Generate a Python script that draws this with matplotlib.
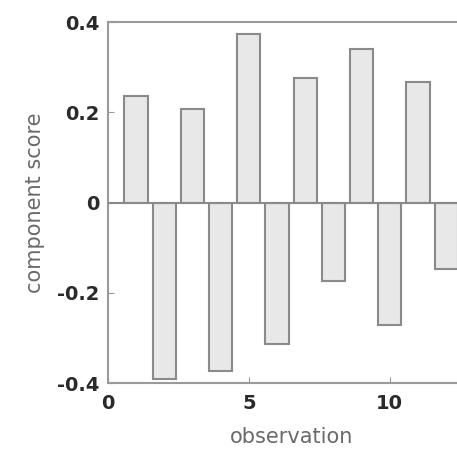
import matplotlib.pyplot as plt
import numpy as np

# component scores per observation
observation = np.arange(1, 13)
score = [0.237, -0.39, 0.208, -0.372, 0.374, -0.314,
         0.277, -0.173, 0.341, -0.27, 0.268, -0.148]

yticks = [-0.4, -0.2, 0, 0.2, 0.4]
ytick_labels = ["-0.4", "-0.2", "0", "0.2", "0.4"]
xticks = [0, 5, 10]

fig = plt.figure(figsize=(4.57, 4.54), dpi=100)
ax = fig.add_axes([0.236, 0.156, 0.802, 0.795])

ax.bar(observation, score, width=0.82, color="#e8e8e8",
       edgecolor="#8a8a8a", linewidth=1.5, zorder=2)
ax.axhline(0, color="#8a8a8a", linewidth=1.5, zorder=3)

ax.set_xlim(0, 13)
ax.set_ylim(-0.4, 0.4)
ax.set_xticks(xticks)
ax.set_yticks(yticks)
ax.set_yticklabels(ytick_labels)

for side in ["left", "top", "bottom"]:
    ax.spines[side].set_color("#9a9a9a")
    ax.spines[side].set_linewidth(1.5)
ax.spines["right"].set_visible(False)

ax.tick_params(direction="in", length=4, color="#9a9a9a",
               labelsize=14, labelcolor="#2a2a2a")
ax.tick_params(axis="x", pad=8)
ax.tick_params(axis="y", pad=6)
for lbl in ax.get_xticklabels() + ax.get_yticklabels():
    lbl.set_fontweight("bold")

ax.set_xlabel("observation", fontsize=15, color="#6a6a6a", labelpad=10)
ax.set_ylabel("component score", fontsize=15, color="#6a6a6a", labelpad=9)

fig.savefig("out.png", dpi=100)
